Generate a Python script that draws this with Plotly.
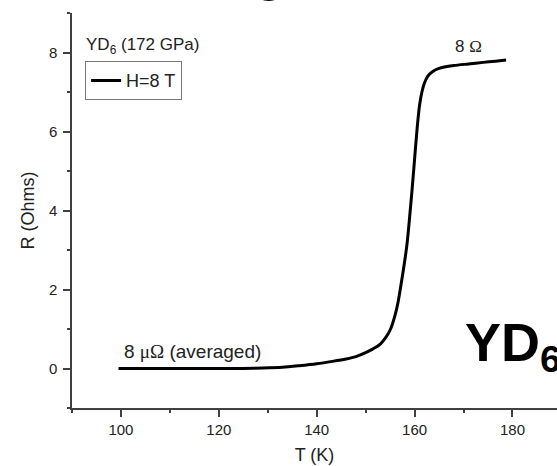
import plotly.graph_objects as go

# Data
T_K = [99.5, 105, 110, 115, 120, 125, 129, 133, 136.4, 140, 143.2, 146, 148, 150,
       151.4, 153, 154.2, 155.1, 155.9, 156.5, 157.2, 157.9, 158.5, 159.0, 159.5,
       160.0, 160.5, 161.0, 161.5, 162.0, 162.7, 163.7, 165, 168, 171, 174, 176.5, 178.7]
R_ohm = [0.0, 0.0, 0.0, 0.0, 0.0, 0.0, 0.01, 0.03, 0.07, 0.12, 0.18, 0.24, 0.30, 0.40,
         0.49, 0.62, 0.80, 1.0, 1.3, 1.6, 2.1, 2.65, 3.2, 3.85, 4.55,
         5.3, 6.05, 6.65, 7.0, 7.22, 7.40, 7.52, 7.60, 7.67, 7.71, 7.75, 7.78, 7.81]

x_ticks = [100, 120, 140, 160, 180]
y_ticks = [0, 2, 4, 6, 8]

FONT = "Arial, Liberation Sans, sans-serif"
AX = "#404040"

fig = go.Figure()
fig.add_trace(go.Scatter(x=T_K, y=R_ohm, mode="lines", name="H=8 T",
                         line=dict(color="black", width=3, shape="spline", smoothing=0.8)))

fig.update_layout(
    width=557, height=466,
    margin=dict(l=72, r=0, t=13, b=58),
    paper_bgcolor="white", plot_bgcolor="white",
    font=dict(family=FONT, size=15, color="#222"),
    showlegend=True,
    legend=dict(x=0.027, y=0.878, xanchor="left", yanchor="top",
                bordercolor="#777", borderwidth=1, bgcolor="white",
                font=dict(size=18, color="#222"), itemwidth=30,
                tracegroupgap=0),
    xaxis=dict(range=[90, 189.1], tickvals=x_ticks, ticks="outside", ticklen=7,
               tickwidth=1.5, tickcolor=AX, showline=True, linecolor=AX, linewidth=1.5,
               showgrid=False, zeroline=False,
               minor=dict(dtick=10, tick0=90, ticks="outside", ticklen=3, tickwidth=1.5, tickcolor=AX),
               title=dict(text="T (K)", font=dict(size=18), standoff=12),
               tickfont=dict(size=15)),
    yaxis=dict(range=[-1, 9], tickvals=y_ticks, ticks="outside", ticklen=7,
               tickwidth=1.5, tickcolor=AX, showline=True, linecolor=AX, linewidth=1.5,
               showgrid=False, zeroline=False, ticklabelstandoff=3,
               minor=dict(dtick=1, tick0=-1, ticks="outside", ticklen=3, tickwidth=1.5, tickcolor=AX),
               title=dict(text="R (Ohms)", font=dict(size=18), standoff=10),
               tickfont=dict(size=15)),
)

fig.add_annotation(x=0.025, y=0.949, xref="paper", yref="paper", xanchor="left", yanchor="top",
                   text="YD<sub>6</sub> (172 GPa)", showarrow=False,
                   font=dict(size=17, color="#222"))
fig.add_annotation(x=171, y=7.85, xref="x", yref="y", xanchor="center", yanchor="bottom",
                   text="8 <span style='font-family:Liberation Serif'>Ω</span>", showarrow=False,
                   font=dict(size=17, color="#222"))
fig.add_annotation(x=100.3, y=0.12, xref="x", yref="y", xanchor="left", yanchor="bottom",
                   text="8 <span style='font-family:Liberation Serif'>μΩ</span> (averaged)",
                   showarrow=False, font=dict(size=19, color="#222"))
fig.add_annotation(x=0.806, y=0.066, xref="paper", yref="paper", xanchor="left", yanchor="bottom",
                   text="YD<sub>6</sub>", showarrow=False,
                   font=dict(size=54, color="black", family="Liberation Sans", weight="bold"))
fig.add_annotation(x=0.408, y=1.024, xref="paper", yref="paper", xanchor="center", yanchor="bottom",
                   text="g", showarrow=False,
                   font=dict(size=50, color="black", family="Liberation Sans", weight="bold"))

fig.write_html("out.html")
